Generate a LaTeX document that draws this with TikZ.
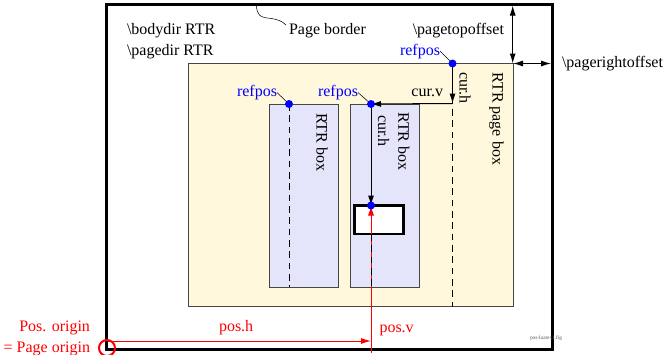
\documentclass[tikz,border=0pt]{standalone}
\usepackage{fontspec}
\setmainfont{Liberation Serif}
\usetikzlibrary{arrows.meta}
\definecolor{pageyellow}{RGB}{255,248,220}
\definecolor{boxlav}{RGB}{228,228,250}
\definecolor{edgegray}{RGB}{70,70,70}
\begin{document}
\begin{tikzpicture}[x=0.75pt,y=-0.75pt,
  every node/.style={inner sep=0pt, outer sep=0pt},
  txt/.style={font=\fontsize{12}{14}\selectfont},
  tip/.style={-{Latex[length=7.5pt,width=4.5pt]}},
  dtip/.style={{Latex[length=7.5pt,width=4.5pt]}-{Latex[length=7.5pt,width=4.5pt]}},
  dot/.style={circle, fill=blue, minimum size=6pt},
  conn/.style={line width=0.75pt},
  dashline/.style={dash pattern=on 5pt off 3.5pt, line width=0.75pt},
  rtxt/.style={txt, rotate=-90, anchor=base west},
  leader/.style={line width=0.4pt},
]
\useasboundingbox (0,0) rectangle (666,354);
% key points
\coordinate (PB1) at (106,4);   \coordinate (PB2) at (552,349);
\coordinate (PX1) at (188,63.5); \coordinate (PX2) at (513,306.5);
\coordinate (B1a) at (269,104); \coordinate (B1b) at (338,287);
\coordinate (B2a) at (350.5,104); \coordinate (B2b) at (419.5,287);
\coordinate (W1) at (354.5,205.5); \coordinate (W2) at (403.5,234);
\coordinate (P0) at (452.5,63.5); \coordinate (C0) at (452.5,103.5);
\coordinate (P1) at (289,104); \coordinate (P2) at (371,104); \coordinate (P3) at (371,205.5);
\coordinate (O) at (107,348);
\coordinate (RH0) at (108,341); \coordinate (RH1) at (371,341); \coordinate (RV0) at (371,353);
\coordinate (T0) at (512.7,5.5); \coordinate (T1) at (512.7,63.5);
\coordinate (R0) at (513,63.5); \coordinate (R1) at (551,63.5);
\coordinate (L0) at (256.5,6); \coordinate (L1) at (270,18.3); \coordinate (L2) at (286,25);

% page border
\draw[line width=2.25pt] (PB1) rectangle (PB2);
% page box
\draw[fill=pageyellow, draw=edgegray, line width=0.75pt] (PX1) rectangle (PX2);
% RTR boxes
\draw[fill=boxlav, draw=edgegray, line width=0.75pt] (B1a) rectangle (B1b);
\draw[fill=boxlav, draw=edgegray, line width=0.75pt] (B2a) rectangle (B2b);
% dashed reference lines
\draw[dashline] (P0) -- (P0 |- PX2);
\draw[dashline] (P1) -- (P1 |- B1b);
\draw[dashline] (P2) -- (P2 |- B2b);
% inner white box
\draw[fill=white, line width=2pt] (W1) rectangle (W2);
% black arrows
\draw[conn,tip] (P0) -- (C0);
\draw[conn,tip] (C0) -- (P2);
\draw[conn,tip] (P2) -- (P3);
\draw[conn,dtip] (T0) -- (T1);
\draw[conn,dtip] (R0) -- (R1);
% red arrows
\draw[red,conn,tip] (RH0) -- (RH1);
\draw[red,conn,tip] (RV0) -- (P3);
\draw[dashline] (P2 |- W2) -- (P2 |- B2b);
\draw[red, line width=1.5pt] (O) circle[radius=6pt];
% page border leader
\draw[leader] (L0) .. controls (257,15) and (260,17.5) .. (L1) .. controls (278,19.5) and (282,21) .. (L2);

% texts
\node[txt, anchor=base west] (bodydir) at (127,34) {\textbackslash bodydir RTR};
\node[txt, anchor=base west] (pagedir) at (127,55) {\textbackslash pagedir RTR};
\node[txt, anchor=base west] (border) at (289,34) {Page border};
\node[txt, anchor=base east] (topoff) at (504,34) {\textbackslash pagetopoffset};
\node[txt, anchor=base west] (rightoff) at (562,67) {\textbackslash pagerightoffset};
\node[txt, anchor=base east] (curv) at (443,96.5) {cur.v};
\node[txt, anchor=base east, blue] (rp0l) at (440,55) {refpos};
\node[txt, anchor=base east, blue] (rp1l) at (277,96.5) {refpos};
\node[txt, anchor=base east, blue] (rp2l) at (358,96.5) {refpos};
\node[rtxt] (curh0) at (459.5,72) {cur.h};
\node[rtxt] (curh2) at (378,115) {cur.h};
\node[rtxt] (rtrpage) at (492.7,72.7) {RTR page box};
\node[rtxt] (rtrbox1) at (316.7,113) {RTR box};
\node[rtxt] (rtrbox2) at (398.3,112.5) {RTR box};
\node[txt, anchor=base east, red] (posorig) at (90,331.5) {Pos. origin};
\node[txt, anchor=base east, red] (pageorig) at (90,352) {= Page origin};
\node[txt, anchor=base west, red] (posh) at (219,331.5) {pos.h};
\node[txt, anchor=base west, red] (posv) at (379.5,332) {pos.v};
\node[font=\fontsize{4}{5}\selectfont, anchor=base west, text=gray!70!black] (fig) at (530,339) {pos-luatex1.fig};

% dots
\node[dot] (d0) at (P0) {};
\node[dot] (d1) at (P1) {};
\node[dot] (d2) at (P2) {};
\node[dot] (d3) at (P3) {};
% refpos leaders
\draw[leader] (rp0l.east) -- (d0);
\draw[leader] (rp1l.east) -- (d1);
\draw[leader] (rp2l.east) -- (d2);
\end{tikzpicture}
\end{document}
